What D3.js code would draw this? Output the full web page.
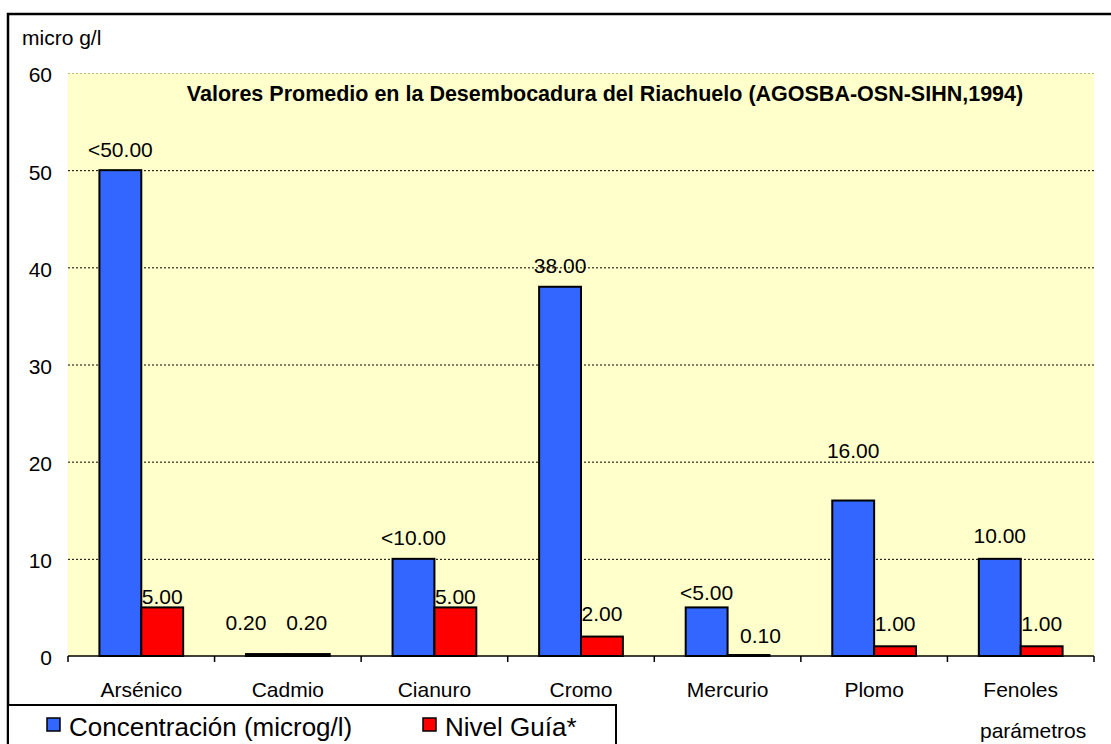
<!DOCTYPE html>
<html>
<head>
<meta charset="utf-8">
<script src="https://cdn.jsdelivr.net/npm/d3@7"></script>
<style>
  body { margin: 0; background: #fff; }
  svg { display: block; font-family: "Liberation Sans", Arial, sans-serif; }
</style>
</head>
<body>
<svg width="1111" height="744"></svg>
<script>
// data
const categories = ["Arsénico", "Cadmio", "Cianuro", "Cromo", "Mercurio", "Plomo", "Fenoles"];
const concentracion = [50, 0.2, 10, 38, 5, 16, 10];
const nivelGuia = [5, 0.2, 5, 2, 0.1, 1, 1];
const concLabels = ["<50.00", "0.20", "<10.00", "38.00", "<5.00", "16.00", "10.00"];
const guiaLabels = ["5.00", "0.20", "5.00", "2.00", "0.10", "1.00", "1.00"];
const yTicks = [0, 10, 20, 30, 40, 50, 60];
const seriesNames = ["Concentración (microg/l)", "Nivel Guía*"];
const colors = ["#3366FF", "#FF0000"];

// hand-moved data labels in the original (dx, dy in px)
const concNudge = [[0, 0], [-21, -10], [0, 0], [0, 0], [0, 6], [0, -29], [0, -2]];
const guiaNudge = [[0, 10], [-2, -10], [0, 10], [0, -2], [12, 2], [0, -2], [0, -2]];

const svg = d3.select("svg");
const plot = {left: 68, right: 1094, top: 73, bottom: 656};

// outer frame
svg.append("rect")
    .attr("x", 8).attr("y", 14)
    .attr("width", 1130).attr("height", 760)
    .style("fill", "none").style("stroke", "#000").style("stroke-width", 2.5);

// plot background
svg.append("rect")
    .attr("x", plot.left).attr("y", plot.top)
    .attr("width", plot.right - plot.left).attr("height", plot.bottom - plot.top)
    .style("fill", "#FFFFCC");

const y = d3.scaleLinear().domain([0, 60]).range([plot.bottom, plot.top]);
const x0 = d3.scaleBand().domain(categories).range([plot.left, plot.right]).padding(0);
const groupW = x0.bandwidth() * 2 / 3.5;
const x1 = d3.scaleBand().domain([0, 1]).range([0, groupW]);
const groupX = c => x0(c) + (x0.bandwidth() - groupW) / 2;

// gridlines
svg.append("g")
    .selectAll("line")
    .data(yTicks.filter(t => t > 0))
    .enter().append("line")
    .attr("x1", plot.left).attr("x2", plot.right)
    .attr("y1", d => y(d) + 0.5).attr("y2", d => y(d) + 0.5)
    .style("stroke", d => d === 60 ? "#b8b890" : "#000")
    .style("stroke-width", 1)
    .style("stroke-dasharray", "2,2");

// y tick labels
svg.append("g")
    .selectAll("text")
    .data(yTicks)
    .enter().append("text")
    .attr("x", 52)
    .attr("y", d => y(d) + 2)
    .attr("dy", "0.35em")
    .attr("text-anchor", "end")
    .style("font-size", "21px")
    .text(d => d);

// bars
const series = [concentracion, nivelGuia];
series.forEach((vals, s) => {
    svg.append("g")
        .selectAll("rect")
        .data(categories)
        .enter().append("rect")
        .attr("x", c => groupX(c) + x1(s))
        .attr("y", (c, i) => y(vals[i]))
        .attr("width", x1.bandwidth())
        .attr("height", (c, i) => plot.bottom - y(vals[i]))
        .style("fill", colors[s])
        .style("stroke", "#000")
        .style("stroke-width", 2);
});

// x axis
const xAxis = svg.append("g")
    .attr("transform", `translate(0,${plot.bottom})`);
xAxis.append("line")
    .attr("x1", plot.left).attr("x2", plot.right)
    .style("stroke", "#000").style("stroke-width", 1.5);
xAxis.selectAll(".tick")
    .data(categories.concat([null]))
    .enter().append("line")
    .attr("x1", c => c === null ? plot.right : x0(c))
    .attr("x2", c => c === null ? plot.right : x0(c))
    .attr("y1", 0).attr("y2", 6)
    .style("stroke", "#000").style("stroke-width", 1.5);

svg.append("g")
    .selectAll("text")
    .data(categories)
    .enter().append("text")
    .attr("x", c => x0(c) + x0.bandwidth() / 2)
    .attr("y", 697)
    .attr("text-anchor", "middle")
    .style("font-size", "21px")
    .text(c => c);

// data labels
const labelSets = [[concentracion, concLabels, concNudge], [nivelGuia, guiaLabels, guiaNudge]];
labelSets.forEach(([vals, labels, nudge], s) => {
    svg.append("g")
        .selectAll("text")
        .data(categories)
        .enter().append("text")
        .attr("x", (c, i) => groupX(c) + x1(s) + x1.bandwidth() / 2 + nudge[i][0])
        .attr("y", (c, i) => y(vals[i]) - 21 + nudge[i][1])
        .attr("dy", "0.35em")
        .attr("text-anchor", "middle")
        .style("font-size", "21px")
        .text((c, i) => labels[i]);
});

// title
svg.append("text")
    .attr("x", 605).attr("y", 101)
    .attr("text-anchor", "middle")
    .style("font-size", "21.5px")
    .style("font-weight", "bold")
    .text("Valores Promedio en la Desembocadura del Riachuelo (AGOSBA-OSN-SIHN,1994)");

// axis titles
svg.append("text")
    .attr("x", 22).attr("y", 45)
    .style("font-size", "21px")
    .text("micro g/l");
svg.append("text")
    .attr("x", 980).attr("y", 738)
    .style("font-size", "21px")
    .text("parámetros");

// legend
svg.append("rect")
    .attr("x", 8).attr("y", 705)
    .attr("width", 608).attr("height", 60)
    .style("fill", "#fff").style("stroke", "#000").style("stroke-width", 2);
const legendX = [47, 423];
seriesNames.forEach((name, s) => {
    svg.append("rect")
        .attr("x", legendX[s]).attr("y", 718)
        .attr("width", 13).attr("height", 13)
        .style("fill", colors[s]).style("stroke", "#000").style("stroke-width", 1.5);
    svg.append("text")
        .attr("x", legendX[s] + 22).attr("y", 736)
        .style("font-size", "26px")
        .text(name);
});
</script>
</body>
</html>
